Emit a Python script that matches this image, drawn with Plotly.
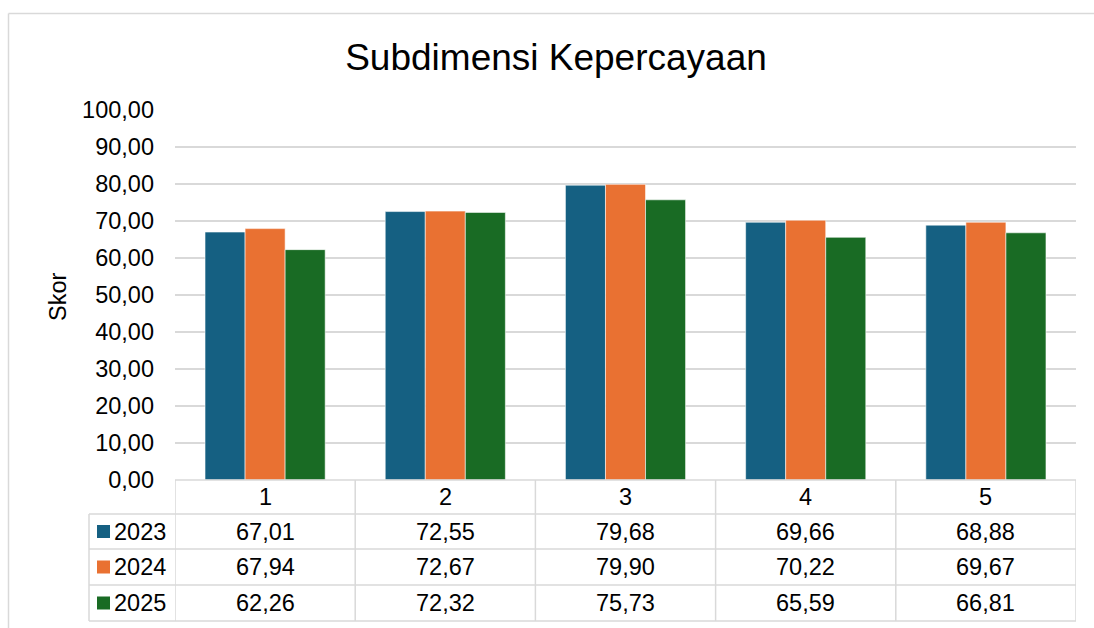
import plotly.graph_objects as go

categories = ["1", "2", "3", "4", "5"]
series_names = ["2023", "2024", "2025"]
values_2023 = [67.01, 72.55, 79.68, 69.66, 68.88]
values_2024 = [67.94, 72.67, 79.90, 70.22, 69.67]
values_2025 = [62.26, 72.32, 75.73, 65.59, 66.81]
colors = ["#156082", "#E97132", "#196B24"]
title_text = "Subdimensi Kepercayaan"
y_title = "Skor"
y_ticks = [0, 10, 20, 30, 40, 50, 60, 70, 80, 90, 100]

series = [values_2023, values_2024, values_2025]

W, H = 1094, 628
L, R, T, B = 175, 1076, 110, 480
FONT = "Arial, Liberation Sans, sans-serif"
FS = 23.5
GRID = "#D9D9D9"

def px_x(p):
    return (p - L) / (R - L)

def px_y(p):
    return (B - p) / (B - T)

def fmt(v):
    return f"{v:.2f}".replace(".", ",")

fig = go.Figure()
xs = list(range(len(categories)))
for name, vals, col in zip(series_names, series, colors):
    fig.add_trace(go.Bar(
        x=xs, y=vals, name=name,
        marker=dict(color=col, line=dict(color="rgba(255,255,255,0.55)", width=1)),
        showlegend=False,
    ))

shapes = []
annotations = []

row_edges = [480, 514, 549, 585, 621]
legend_left = 89

shapes.append(dict(type="line", xref="paper", yref="paper",
                   x0=px_x(L), x1=px_x(R), y0=px_y(row_edges[0]), y1=px_y(row_edges[0]),
                   line=dict(color=GRID, width=1.5)))
for r in row_edges[1:]:
    shapes.append(dict(type="line", xref="paper", yref="paper",
                       x0=px_x(legend_left), x1=px_x(R), y0=px_y(r), y1=px_y(r),
                       line=dict(color=GRID, width=1.5)))
for i in range(len(categories) + 1):
    shapes.append(dict(type="line", xref="x", yref="paper",
                       x0=i - 0.5, x1=i - 0.5, y0=px_y(row_edges[0]), y1=px_y(row_edges[-1]),
                       line=dict(color=GRID, width=1.5)))
shapes.append(dict(type="line", xref="paper", yref="paper",
                   x0=px_x(legend_left), x1=px_x(legend_left), y0=px_y(row_edges[1]), y1=px_y(row_edges[-1]),
                   line=dict(color=GRID, width=1.5)))
shapes.append(dict(type="line", xref="paper", yref="paper",
                   x0=px_x(8.5), x1=px_x(8.5), y0=px_y(13.5), y1=px_y(H + 5),
                   line=dict(color=GRID, width=1.5)))
shapes.append(dict(type="line", xref="paper", yref="paper",
                   x0=px_x(8.5), x1=px_x(W + 5), y0=px_y(13.5), y1=px_y(13.5),
                   line=dict(color=GRID, width=1.5)))

hdr_c = (row_edges[0] + row_edges[1]) / 2
for i, c in enumerate(categories):
    annotations.append(dict(x=i, y=px_y(hdr_c), xref="x", yref="paper", text=c,
                            showarrow=False, font=dict(family=FONT, size=FS, color="#000"),
                            xanchor="center", yanchor="middle"))
for k, (name, vals, col) in enumerate(zip(series_names, series, colors)):
    rc = (row_edges[k + 1] + row_edges[k + 2]) / 2
    shapes.append(dict(type="rect", xref="paper", yref="paper",
                       x0=px_x(97), x1=px_x(110), y0=px_y(rc - 6.5), y1=px_y(rc + 6.5),
                       fillcolor=col, line=dict(width=0)))
    annotations.append(dict(x=px_x(112), y=px_y(rc), xref="paper", yref="paper", text=name,
                            showarrow=False, font=dict(family=FONT, size=FS, color="#000"),
                            xanchor="left", yanchor="middle"))
    for i, v in enumerate(vals):
        annotations.append(dict(x=i, y=px_y(rc), xref="x", yref="paper", text=fmt(v),
                                showarrow=False, font=dict(family=FONT, size=FS, color="#000"),
                                xanchor="center", yanchor="middle"))

annotations.append(dict(x=px_x(58), y=px_y(297), xref="paper", yref="paper", text=y_title,
                        textangle=-90, showarrow=False,
                        font=dict(family=FONT, size=FS, color="#000"),
                        xanchor="center", yanchor="middle"))

fig.update_layout(
    width=W, height=H, autosize=False,
    margin=dict(l=L, r=W - R, t=T, b=H - B, pad=0),
    paper_bgcolor="white", plot_bgcolor="white",
    separators=",.",
    barmode="group", bargap=1/3, bargroupgap=0,
    font=dict(family=FONT, size=FS, color="#000"),
    title=dict(text=title_text, x=556 / W, xanchor="center", y=1 - 57 / H, yanchor="middle",
               xref="container", yref="container",
               font=dict(family=FONT, size=37, color="#000")),
    xaxis=dict(type="linear", range=[-0.5, len(categories) - 0.5], showticklabels=False,
               showgrid=False, zeroline=False, showline=False, ticks=""),
    yaxis=dict(range=[0, 100], tickvals=y_ticks, tickformat=".2f", showgrid=True,
               gridcolor=GRID, gridwidth=1.5, zeroline=False, showline=False, ticks="",
               ticklabelstandoff=20, tickfont=dict(family=FONT, size=FS, color="#000")),
    shapes=shapes, annotations=annotations,
)

fig.write_html("out.html", config={"displayModeBar": False},
               post_script="document.body.style.margin='0';")
